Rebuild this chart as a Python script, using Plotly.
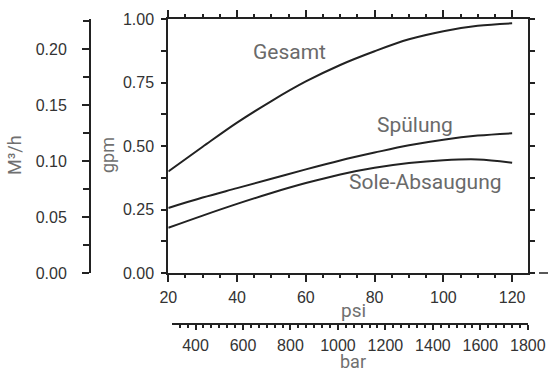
import plotly.graph_objects as go

# ---- data ----
psi = [20, 30, 40, 50, 60, 70, 80, 90, 100, 110, 120]
gesamt = [0.400, 0.497, 0.592, 0.677, 0.754, 0.819, 0.873, 0.920, 0.952, 0.973, 0.983]
spuelung = [0.256, 0.297, 0.334, 0.371, 0.408, 0.443, 0.474, 0.503, 0.525, 0.541, 0.550]
sole = [0.178, 0.226, 0.272, 0.315, 0.354, 0.388, 0.414, 0.433, 0.444, 0.447, 0.434]
series_names = ["Gesamt", "Spülung", "Sole-Absaugung"]

gpm_ticks = [0.0, 0.25, 0.5, 0.75, 1.0]
m3h_ticks = [0.0, 0.05, 0.10, 0.15, 0.20]
psi_ticks = [20, 40, 60, 80, 100, 120]
bar_ticks = [400, 600, 800, 1000, 1200, 1400, 1600, 1800]

W, H = 548, 373
def px(x):
    return x / W
def py(y):
    return (H - y) / H

line_col = "#222222"
tick_font = dict(family="Liberation Sans", size=16, color="#333333")
title_font_col = "#707070"

fig = go.Figure()
for name, vals in zip(series_names, [gesamt, spuelung, sole]):
    fig.add_trace(go.Scatter(x=psi, y=vals, mode="lines", name=name,
                             line=dict(color=line_col, width=2, shape="spline"),
                             showlegend=False, hoverinfo="skip"))

# empty trace so that the secondary axes (bar, M³/h) are drawn
fig.add_trace(go.Scatter(x=[], y=[], xaxis="x2", yaxis="y2", showlegend=False, hoverinfo="skip"))

xdom = [px(168.3), px(528.3)]
ydom = [py(273), py(19)]
xrange_psi = [20, 124.7]

common = dict(showline=True, linecolor=line_col, linewidth=2, showgrid=False,
              zeroline=False, automargin=False)

fig.update_layout(
    width=W, height=H, margin=dict(l=0, r=0, t=0, b=0, autoexpand=False),
    paper_bgcolor="white", plot_bgcolor="rgba(0,0,0,0)",
    xaxis=dict(domain=xdom, range=xrange_psi, anchor="y", side="bottom", **common,
               mirror="allticks",
               tickmode="array", tickvals=psi_ticks, ticktext=[str(v) for v in psi_ticks],
               ticks="outside", ticklen=7, tickwidth=1.5, tickcolor=line_col,
               minor=dict(dtick=5, tick0=0, ticks="outside", ticklen=3, tickwidth=1.5, tickcolor=line_col),
               tickfont=tick_font, ticklabelstandoff=2),
    xaxis2=dict(domain=[px(172), px(528.3)], range=[301, 1802], anchor="free", position=py(323.5),
                side="bottom", **common,
                tickmode="array", tickvals=bar_ticks, ticktext=[str(v) for v in bar_ticks],
                ticks="outside", ticklen=5, tickwidth=1.5, tickcolor=line_col,
                minor=dict(dtick=200 / 6, tick0=0, ticks="outside", ticklen=3, tickwidth=1.5, tickcolor=line_col),
                tickfont=tick_font, ticklabelstandoff=2),
    yaxis=dict(domain=ydom, range=[0, 1], anchor="x", side="left", **common,
               mirror="allticks",
               tickmode="array", tickvals=gpm_ticks, ticktext=["%.2f" % v for v in gpm_ticks],
               ticks="outside", ticklen=5, tickwidth=2, tickcolor=line_col,
               minor=dict(dtick=0.125, tick0=0, ticks="outside", ticklen=5, tickwidth=2, tickcolor=line_col),
               tickfont=tick_font, ticklabelstandoff=4),
    yaxis2=dict(domain=ydom, range=[0, 0.2271], overlaying="y", anchor="free", position=px(90),
                side="left", **common,
                tickmode="array", tickvals=m3h_ticks, ticktext=["%.2f" % v for v in m3h_ticks],
                ticks="outside", ticklen=7, tickwidth=2, tickcolor=line_col,
                minor=dict(dtick=0.025, tick0=0, ticks="outside", ticklen=6, tickwidth=2, tickcolor=line_col),
                tickfont=tick_font, ticklabelstandoff=12),
)

ann_font = dict(family="Roboto", size=21, color="#6a6a6a")
title_font = dict(family="Roboto", size=19, color=title_font_col)
annotations = [
    dict(text="Gesamt", x=px(289), y=py(52), font=ann_font),
    dict(text="Spülung", x=px(415), y=py(125), font=ann_font),
    dict(text="Sole-Absaugung", x=px(425), y=py(182), font=ann_font),
    dict(text="psi", x=px(353), y=py(310), font=title_font),
    dict(text="bar", x=px(353), y=py(361), font=dict(family="Roboto", size=18, color=title_font_col)),
    dict(text="gpm", x=px(107), y=py(155), font=dict(family="Roboto", size=18, color=title_font_col), textangle=-90),
    dict(text="M³/h", x=px(14), y=py(155), font=dict(family="Roboto", size=18, color=title_font_col), textangle=-90),
]
for a in annotations:
    fig.add_annotation(xref="paper", yref="paper", showarrow=False,
                       xanchor="center", yanchor="middle", **a)

fig.add_shape(type="line", xref="paper", yref="paper",
              x0=px(539), x1=px(548), y0=py(273), y1=py(273),
              line=dict(color=line_col, width=1.5))

fig.write_html("out.html")
